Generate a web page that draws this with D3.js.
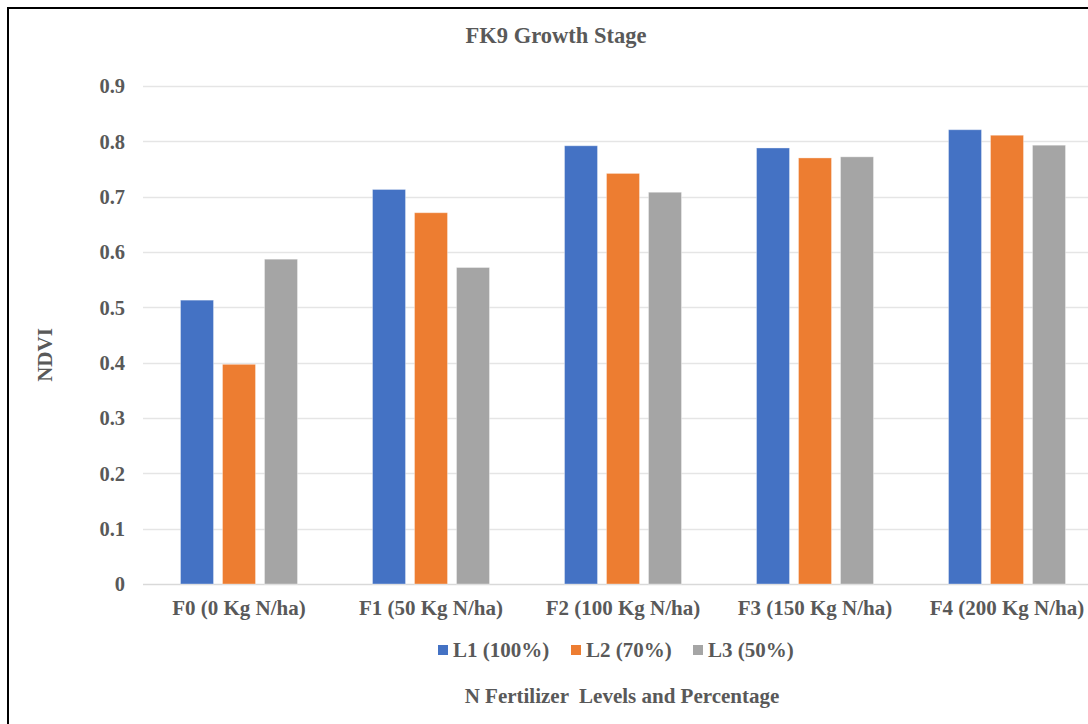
<!DOCTYPE html>
<html>
<head>
<meta charset="utf-8">
<script src="https://cdn.jsdelivr.net/npm/d3@7"></script>
<style>
  html, body { margin: 0; padding: 0; background: #fff; }
  svg { display: block; }
  text { font-family: "Liberation Serif", "Times New Roman", serif; font-weight: bold; fill: #595959; }
</style>
</head>
<body>
<svg id="chart" width="1088" height="724"></svg>
<script>
// NDVI at the FK9 growth stage, by N fertilizer level and application percentage
const categories = ["F0 (0 Kg N/ha)", "F1 (50 Kg N/ha)", "F2 (100 Kg N/ha)", "F3 (150 Kg N/ha)", "F4 (200 Kg N/ha)"];
const seriesNames = ["L1 (100%)", "L2 (70%)", "L3 (50%)"];
const l1Values = [0.513, 0.713, 0.792, 0.788, 0.821];
const l2Values = [0.397, 0.671, 0.742, 0.770, 0.811];
const l3Values = [0.587, 0.572, 0.708, 0.772, 0.793];
const yTicks = [0, 0.1, 0.2, 0.3, 0.4, 0.5, 0.6, 0.7, 0.8, 0.9];
const seriesColors = ["#4472C4", "#ED7D31", "#A5A5A5"];

const seriesValues = [l1Values, l2Values, l3Values];
const svg = d3.select("#chart");

// chart frame
svg.append("rect")
  .attr("x", 8).attr("y", 8)
  .attr("width", 1100).attr("height", 740)
  .attr("fill", "none").attr("stroke", "#000").attr("stroke-width", 2);

const plot = { left: 143, right: 1103, top: 86, bottom: 584 };

const y = d3.scaleLinear().domain([0, 0.9]).range([plot.bottom, plot.top]);
const x = d3.scaleBand().domain(categories).range([plot.left, plot.right]).padding(0);
const groupWidth = 117;
const xs = d3.scaleBand().domain(seriesNames).range([0, groupWidth]).paddingInner(0.214).paddingOuter(0);

// gridlines
svg.append("g").selectAll("line")
  .data(yTicks)
  .join("line")
  .attr("x1", plot.left).attr("x2", plot.right)
  .attr("y1", d => Math.round(y(d)) + 0.5).attr("y2", d => Math.round(y(d)) + 0.5)
  .attr("stroke", d => d === 0 ? "#d9d9d9" : "#e5e5e5")
  .attr("stroke-width", 1.5);

// y tick labels
svg.append("g").selectAll("text")
  .data(yTicks)
  .join("text")
  .attr("x", 125)
  .attr("y", d => y(d))
  .attr("dy", "0.35em")
  .attr("text-anchor", "end")
  .style("font-size", "20.5px")
  .text(d => d === 0 ? "0" : d3.format(".1f")(d));

// bars
const groups = svg.append("g").selectAll("g")
  .data(categories)
  .join("g")
  .attr("transform", c => `translate(${x(c) + (x.bandwidth() - groupWidth) / 2},0)`);

groups.selectAll("rect")
  .data((c, i) => seriesNames.map((s, k) => ({ s, k, v: seriesValues[k][i] })))
  .join("rect")
  .attr("x", d => xs(d.s))
  .attr("y", d => y(d.v))
  .attr("width", xs.bandwidth())
  .attr("height", d => y(0) - y(d.v))
  .attr("fill", d => seriesColors[d.k])
  .attr("stroke", "rgba(255,255,255,0.35)")
  .attr("stroke-width", 1);

// category labels
svg.append("g").selectAll("text")
  .data(categories)
  .join("text")
  .attr("x", c => x(c) + x.bandwidth() / 2)
  .attr("y", 615)
  .attr("text-anchor", "middle")
  .style("font-size", "21px")
  .text(c => c);

// legend
const legendX = [438, 571, 693];
const legend = svg.append("g").selectAll("g")
  .data(seriesNames)
  .join("g")
  .attr("transform", (s, i) => `translate(${legendX[i]},645)`);
legend.append("rect")
  .attr("width", 10).attr("height", 10)
  .attr("fill", (s, i) => seriesColors[i]);
legend.append("text")
  .attr("x", 15).attr("y", 12)
  .style("font-size", "21px")
  .text(s => s);

// titles
svg.append("text")
  .attr("x", 556).attr("y", 43)
  .attr("text-anchor", "middle")
  .style("font-size", "22.5px")
  .text("FK9 Growth Stage");

svg.append("text")
  .attr("x", 622).attr("y", 703)
  .attr("text-anchor", "middle")
  .style("font-size", "21px")
  .style("white-space", "pre")
  .attr("xml:space", "preserve")
  .text("N Fertilizer  Levels and Percentage");

svg.append("text")
  .attr("transform", "translate(52,355) rotate(-90)")
  .attr("text-anchor", "middle")
  .style("font-size", "21px")
  .text("NDVI");
</script>
</body>
</html>
